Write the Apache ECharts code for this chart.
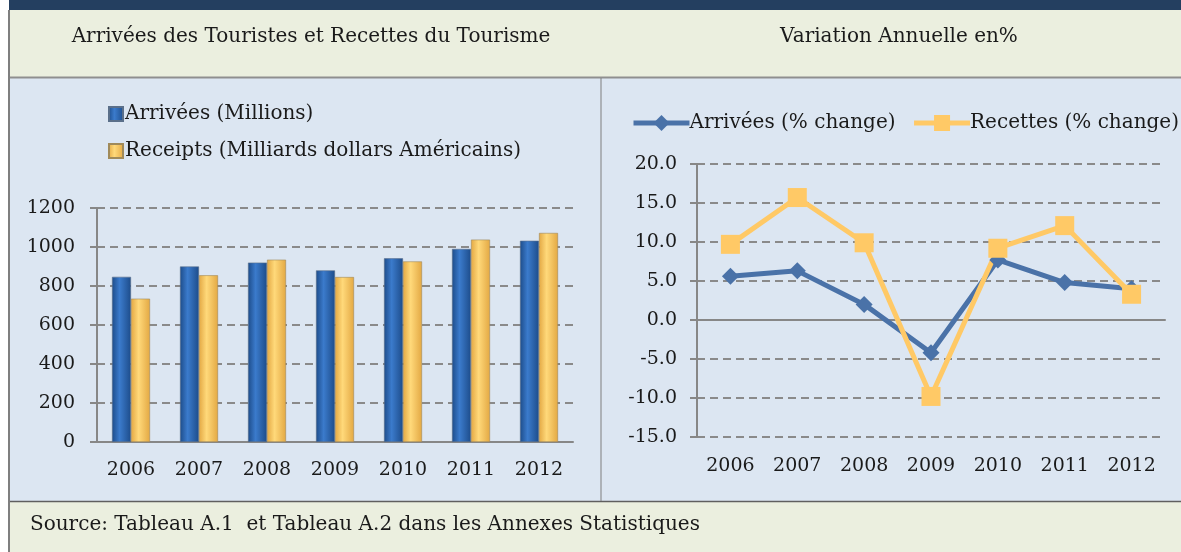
<!DOCTYPE html>
<html>
<head>
<meta charset="utf-8">
<script src="https://cdn.jsdelivr.net/npm/echarts@6/dist/echarts.min.js"></script>
<style>
  html, body { margin: 0; padding: 0; background: #fff; }
  #chart { width: 1181px; height: 552px; }
</style>
</head>
<body>
<div id="chart"></div>
<script>
  // donnees
  var years = ['2006', '2007', '2008', '2009', '2010', '2011', '2012'];
  var arrivals = [847, 900, 920, 880, 942, 990, 1032];
  var receipts = [735, 855, 935, 846, 926, 1038, 1072];
  var arrivalsPct = [5.6, 6.3, 2.0, -4.2, 7.7, 4.8, 4.0];
  var receiptsPct = [9.7, 15.7, 9.9, -9.8, 9.2, 12.1, 3.3];

  var serif = 'DejaVu Serif';
  var fs = 19;      // axes
  var fsBig = 20;   // titres, legendes, source
  var txt = '#1a1a1a';
  var gridColor = '#8a8a8a';
  var axisColor = '#878787';

  var myChart = echarts.init(document.getElementById('chart'));

  function hGrad(a, b) {
    return new echarts.graphic.LinearGradient(0, 0, 1, 0, [
      { offset: 0, color: a }, { offset: 0.4, color: b }, { offset: 1, color: a }
    ]);
  }
  var blueFill = hGrad('#1d4c8a', '#3b7bcc');
  var yellowFill = hGrad('#e3a843', '#ffd97a');

  myChart.setOption({
    animation: false,
    textStyle: { fontFamily: serif },
    graphic: [
      { type: 'rect', z: -10, shape: { x: 9, y: 0, width: 1172, height: 10 }, style: { fill: '#243f60' } },
      { type: 'rect', z: -10, shape: { x: 9, y: 10, width: 1172, height: 67 }, style: { fill: '#ebefdf' } },
      { type: 'rect', z: -10, shape: { x: 9, y: 78, width: 1172, height: 423 }, style: { fill: '#dce6f2' } },
      { type: 'rect', z: -10, shape: { x: 9, y: 502, width: 1172, height: 50 }, style: { fill: '#ebefdf' } },
      { type: 'line', z: -9, shape: { x1: 9, y1: 77.5, x2: 1181, y2: 77.5 }, style: { stroke: '#8f8f8f', lineWidth: 2 } },
      { type: 'line', z: -9, shape: { x1: 9, y1: 501.5, x2: 1181, y2: 501.5 }, style: { stroke: '#5f5f5f', lineWidth: 1.5 } },
      { type: 'line', z: -9, shape: { x1: 601, y1: 78, x2: 601, y2: 501 }, style: { stroke: '#7f7f7f', lineWidth: 1 } },
      { type: 'line', z: -9, shape: { x1: 9, y1: 10, x2: 9, y2: 552 }, style: { stroke: '#7f7f7f', lineWidth: 2 } },
      {
        type: 'text', left: 30, top: 515,
        style: { text: 'Source: Tableau A.1  et Tableau A.2 dans les Annexes Statistiques', fontFamily: serif, fontSize: fsBig, fill: txt }
      }
    ],
    title: [
      { text: 'Arrivées des Touristes et Recettes du Tourisme', left: 306, top: 22, textAlign: 'center',
        textStyle: { fontFamily: serif, fontSize: fsBig, fontWeight: 'normal', color: txt } },
      { text: 'Variation Annuelle en%', left: 894, top: 22, textAlign: 'center',
        textStyle: { fontFamily: serif, fontSize: fsBig, fontWeight: 'normal', color: txt } }
    ],
    legend: [
      {
        data: ['Arrivées (Millions)', 'Receipts (Milliards dollars Américains)'],
        orient: 'vertical', left: 103, top: 99, itemWidth: 14, itemHeight: 14, itemGap: 17,
        icon: 'rect',
        textStyle: { fontFamily: serif, fontSize: fsBig, color: txt, padding: [0, 0, 0, -3] }
      },
      {
        data: ['Arrivées (% change)', 'Recettes (% change)'],
        left: 631, top: 113, padding: 0, width: 600, itemWidth: 56, itemHeight: 20, itemGap: 16,
        lineStyle: { width: 5 },
        textStyle: { fontFamily: serif, fontSize: fsBig, color: txt, padding: [0, 0, 0, -5] }
      }
    ],
    grid: [
      { left: 97, top: 208, width: 476, height: 234 },
      { left: 697, top: 164, width: 468, height: 273 }
    ],
    xAxis: [
      {
        type: 'category', gridIndex: 0, data: years,
        axisLine: { lineStyle: { color: axisColor, width: 2 } },
        axisTick: { length: 7, lineStyle: { color: axisColor, width: 2 } },
        axisLabel: { fontFamily: serif, fontSize: fs, color: txt, margin: 19 }
      },
      {
        type: 'category', gridIndex: 1, data: years, position: 'bottom',
        axisLine: { show: false, onZero: false },
        axisTick: { show: false },
        axisLabel: { fontFamily: serif, fontSize: fs, color: txt, margin: 20 }
      },
      {
        type: 'category', gridIndex: 1, data: years, position: 'bottom',
        axisLine: { onZero: true, lineStyle: { color: axisColor, width: 2 } },
        axisTick: { length: 7, lineStyle: { color: axisColor, width: 2 } },
        axisLabel: { show: false }
      }
    ],
    yAxis: [
      {
        type: 'value', gridIndex: 0, min: 0, max: 1200, interval: 200,
        axisLine: { show: true, lineStyle: { color: axisColor, width: 2 } },
        axisTick: { show: true, length: 7, lineStyle: { color: axisColor, width: 2 } },
        splitLine: { lineStyle: { color: gridColor, type: [8, 5], width: 2 } },
        axisLabel: { fontFamily: serif, fontSize: fs, color: txt, margin: 22,
          formatter: function (v) { return String(v); } }
      },
      {
        type: 'value', gridIndex: 1, min: -15, max: 20, interval: 5,
        axisLine: { show: true, lineStyle: { color: axisColor, width: 2 } },
        axisTick: { show: true, length: 7, lineStyle: { color: axisColor, width: 2 } },
        splitLine: { lineStyle: { color: gridColor, type: [8, 5], width: 2 } },
        axisLabel: { fontFamily: serif, fontSize: fs, color: txt, margin: 20,
          formatter: function (v) { return v.toFixed(1); } }
      }
    ],
    series: [
      {
        name: 'Arrivées (Millions)', type: 'bar', xAxisIndex: 0, yAxisIndex: 0,
        data: arrivals, barWidth: 19, barGap: '0%',
        itemStyle: { color: blueFill, borderColor: '#5a6f8a', borderWidth: 0.6 }
      },
      {
        name: 'Receipts (Milliards dollars Américains)', type: 'bar', xAxisIndex: 0, yAxisIndex: 0,
        data: receipts, barWidth: 19,
        itemStyle: { color: yellowFill, borderColor: '#a08a5a', borderWidth: 0.6 }
      },
      {
        name: 'Arrivées (% change)', type: 'line', xAxisIndex: 1, yAxisIndex: 1,
        data: arrivalsPct, symbol: 'diamond', symbolSize: 17,
        lineStyle: { color: '#4a72a8', width: 5 },
        itemStyle: { color: '#4a72a8' }
      },
      {
        name: 'Recettes (% change)', type: 'line', xAxisIndex: 1, yAxisIndex: 1,
        data: receiptsPct, symbol: 'rect', symbolSize: 19,
        lineStyle: { color: '#ffc966', width: 5 },
        itemStyle: { color: '#ffc966' }
      }
    ]
  });
</script>
</body>
</html>
